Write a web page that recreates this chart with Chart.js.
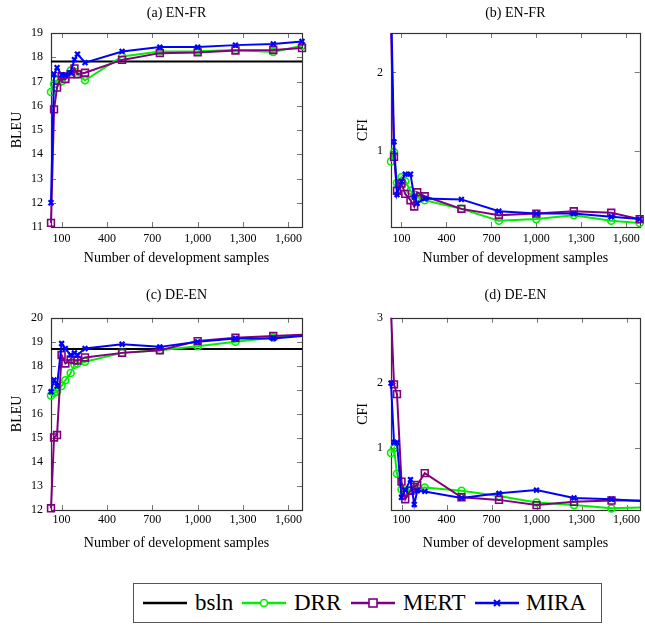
<!DOCTYPE html>
<html><head><meta charset="utf-8">
<script src="https://cdn.jsdelivr.net/npm/chart.js@4.4.1/dist/chart.umd.min.js"></script>
<style>
html,body{margin:0;padding:0;background:#fff;}
#wrap{position:relative;width:645px;height:627px;overflow:hidden;font-family:'Liberation Serif','Times New Roman',serif;}
canvas{position:absolute;}
#legend{position:absolute;left:133px;top:583px;width:469px;height:40px;border:1px solid #555;box-sizing:border-box;}
.ls{position:absolute;top:12px;}
.lt{position:absolute;font-size:23px;line-height:23px;top:7px;color:#000;white-space:nowrap;font-family:'Liberation Serif',serif;}
</style></head>
<body><div id="wrap">
<canvas id="cA" width="322" height="280" style="left:0;top:0"></canvas>
<canvas id="cB" width="323" height="280" style="left:322px;top:0"></canvas>
<canvas id="cC" width="322" height="280" style="left:0;top:280px"></canvas>
<canvas id="cD" width="323" height="280" style="left:322px;top:280px"></canvas>
<div id="legend"></div>
</div>
<script>
// ---------- data ----------
const seriesNames = ['bsln', 'DRR', 'MERT', 'MIRA'];
const xTickVals = [100, 400, 700, 1000, 1300, 1600];
const xEnFr = [30, 50, 70, 100, 125, 160, 185, 205, 255, 500, 750, 1000, 1250, 1500, 1690];
const xDeEn = [30, 50, 70, 100, 125, 160, 185, 205, 255, 500, 750, 1000, 1250, 1500, 1800];

// (a) EN-FR BLEU
const enFrBleuBsln = 17.82;
const enFrBleuDRR  = [16.57, 16.9, 17.05, 17.0, 17.1, 17.45, 17.4, 17.3, 17.05, 18.03, 18.24, 18.25, 18.3, 18.22, 18.48];
const enFrBleuMERT = [11.17, 15.85, 16.75, 17.22, 17.1, 17.3, 17.54, 17.3, 17.36, 17.89, 18.17, 18.2, 18.28, 18.3, 18.38];
const enFrBleuMIRA = [12.0, 17.3, 17.57, 17.27, 17.27, 17.36, 17.9, 18.13, 17.78, 18.24, 18.42, 18.42, 18.5, 18.55, 18.65];

// (b) EN-FR CFI
const enFrCfiDRR  = [0.87, 0.99, 0.6, 0.67, 0.62, 0.5, 0.45, 0.42, 0.38, 0.27, 0.12, 0.14, 0.19, 0.12, 0.09];
const enFrCfiMERT = [2.6, 0.93, 0.5, 0.59, 0.46, 0.38, 0.3, 0.48, 0.43, 0.27, 0.19, 0.21, 0.24, 0.22, 0.14];
const enFrCfiMIRA = [2.9, 1.12, 0.45, 0.62, 0.71, 0.71, 0.42, 0.34, 0.4, 0.39, 0.24, 0.21, 0.21, 0.17, 0.14];

// (c) DE-EN BLEU
const deEnBleuBsln = 18.7;
const deEnBleuDRR  = [16.77, 16.88, 16.92, 17.16, 17.4, 17.7, 18.05, 18.1, 18.17, 18.54, 18.65, 18.82, 19.0, 19.18, 19.35];
const deEnBleuMERT = [12.07, 15.02, 15.12, 18.45, 18.1, 18.27, 18.24, 18.22, 18.35, 18.54, 18.65, 19.03, 19.17, 19.24, 19.33];
const deEnBleuMIRA = [16.92, 17.41, 17.16, 18.93, 18.72, 18.45, 18.54, 18.45, 18.72, 18.9, 18.79, 19.0, 19.14, 19.14, 19.3];

// (d) DE-EN CFI
const deEnCfiDRR  = [0.93, 1.0, 0.61, 0.37, 0.35, 0.36, 0.38, 0.39, 0.4, 0.35, 0.27, 0.17, 0.13, 0.08, 0.1];
const deEnCfiMERT = [3.1, 1.98, 1.83, 0.49, 0.22, 0.35, 0.41, 0.44, 0.62, 0.25, 0.21, 0.13, 0.18, 0.2, 0.2];
const deEnCfiMIRA = [2.0, 1.09, 1.09, 0.25, 0.36, 0.52, 0.14, 0.35, 0.34, 0.24, 0.31, 0.36, 0.24, 0.22, 0.18];

// ---------- styling ----------
Chart.defaults.font.family = "'Liberation Serif','Times New Roman',serif";
Chart.defaults.color = '#000';
const COL = {bsln: '#000000', DRR: '#00ee00', MERT: '#800080', MIRA: '#0000ff'};
const MARK = {
  DRR:  {pointStyle: 'circle', pointRadius: 3.5, pointBorderWidth: 1.6},
  MERT: {pointStyle: 'rect', pointRadius: 4.8, pointBorderWidth: 1.6},
  MIRA: {pointStyle: 'crossRot', pointRadius: 3.4, pointBorderWidth: 2.2}
};
const ORDER = {bsln: 3, DRR: 2, MERT: 1, MIRA: 0};

function pts(xs, ys) { return xs.map((x, i) => ({x: x, y: ys[i]})); }

const framePlugin = {
  id: 'pgfFrame',
  beforeDatasetsDraw(chart) {
    const {ctx, chartArea: a, scales: {x, y}} = chart;
    const L = 5;
    ctx.save();
    ctx.strokeStyle = '#777';
    ctx.lineWidth = 1;
    ctx.beginPath();
    x.ticks.forEach(t => {
      const p = Math.round(x.getPixelForValue(t.value)) + 0.5;
      ctx.moveTo(p, a.bottom); ctx.lineTo(p, a.bottom - L);
      ctx.moveTo(p, a.top); ctx.lineTo(p, a.top + L);
    });
    y.ticks.forEach(t => {
      const p = Math.round(y.getPixelForValue(t.value)) + 0.5;
      ctx.moveTo(a.left, p); ctx.lineTo(a.left + L, p);
      ctx.moveTo(a.right, p); ctx.lineTo(a.right - L, p);
    });
    ctx.stroke();
    ctx.strokeStyle = '#333';
    ctx.lineWidth = 1.2;
    ctx.strokeRect(Math.round(a.left) + 0.5, Math.round(a.top) + 0.5, Math.round(a.width), Math.round(a.height));
    ctx.restore();
  }
};

function makePanel(id, title, yTitle, xs, vals, bsln, yMin, yMax, g) {
  const datasets = [];
  if (bsln !== null) {
    datasets.push({label: 'bsln', data: [{x: xs[0], y: bsln}, {x: xs[xs.length - 1], y: bsln}],
      borderColor: COL.bsln, borderWidth: 2, pointRadius: 0, order: ORDER.bsln, clip: g.clip});
  }
  ['DRR', 'MERT', 'MIRA'].forEach(n => {
    datasets.push(Object.assign({label: n, data: pts(xs, vals[n]), borderColor: COL[n],
      backgroundColor: 'rgba(0,0,0,0)', pointBorderColor: COL[n], pointBackgroundColor: 'rgba(0,0,0,0)',
      borderWidth: 2, tension: 0, order: ORDER[n], clip: g.clip}, MARK[n]));
  });
  return new Chart(document.getElementById(id), {
    type: 'line',
    data: {datasets: datasets},
    plugins: [framePlugin],
    options: {
      responsive: false, animation: false, devicePixelRatio: 1,
      events: [],
      layout: {padding: {left: 0, right: g.padR, top: 0, bottom: 0}, autoPadding: false},
      plugins: {
        legend: {display: false}, tooltip: {enabled: false},
        title: {display: true, text: title, color: '#000', fullSize: false,
          font: {size: 14, weight: 'normal'}, padding: {top: g.tTop, bottom: g.tBot}}
      },
      scales: {
        x: {type: 'linear', min: 30, max: 1690,
          afterBuildTicks: s => { s.ticks = xTickVals.map(v => ({value: v})); },
          afterFit: s => { s.height = g.xh; },
          ticks: {color: '#000', font: {size: 12}, padding: g.xpad, maxRotation: 0, autoSkip: false,
            callback: v => Number(v).toLocaleString('en-US')},
          grid: {display: false, drawTicks: false}, border: {display: false},
          title: {display: true, text: 'Number of development samples', color: '#000',
            font: {size: 14}, padding: {top: 0, bottom: g.xtb}}
        },
        y: {type: 'linear', min: yMin, max: yMax,
          afterFit: s => { s.width = g.yw; },
          ticks: {stepSize: 1, includeBounds: false, color: '#000', font: {size: 12}, padding: 8},
          grid: {display: false, drawTicks: false}, border: {display: false},
          title: {display: true, text: yTitle, color: '#000', font: {size: 14}, padding: {top: g.ytp, bottom: 0}}
        }
      }
    }
  });
}

const clipEnFr = {left: 8, right: 8, top: 0, bottom: 8};
const clipDeEn = {left: 8, right: 0, top: 0, bottom: 8};

makePanel('cA', '(a) EN-FR', 'BLEU', xEnFr,
  {DRR: enFrBleuDRR, MERT: enFrBleuMERT, MIRA: enFrBleuMIRA}, enFrBleuBsln, 11, 19,
  {padR: 20, tTop: 4.5, tBot: 11.7, xh: 53, xpad: 5, xtb: 13.6, yw: 51, ytp: 8.6, clip: clipEnFr});
makePanel('cB', '(b) EN-FR', 'CFI', xEnFr,
  {DRR: enFrCfiDRR, MERT: enFrCfiMERT, MIRA: enFrCfiMIRA}, null, 0.04, 2.5,
  {padR: 5, tTop: 4.5, tBot: 11.7, xh: 53, xpad: 5, xtb: 13.6, yw: 69, ytp: 32.6, clip: clipEnFr});
makePanel('cC', '(c) DE-EN', 'BLEU', xDeEn,
  {DRR: deEnBleuDRR, MERT: deEnBleuMERT, MIRA: deEnBleuMIRA}, deEnBleuBsln, 12, 20,
  {padR: 20, tTop: 6.6, tBot: 14.4, xh: 50, xpad: 2.5, xtb: 8.6, yw: 51, ytp: 8.6, clip: clipDeEn});
makePanel('cD', '(d) DE-EN', 'CFI', xDeEn,
  {DRR: deEnCfiDRR, MERT: deEnCfiMERT, MIRA: deEnCfiMIRA}, null, 0.055, 3,
  {padR: 5, tTop: 6.6, tBot: 14.4, xh: 50, xpad: 2.5, xtb: 8.6, yw: 69, ytp: 32.6, clip: clipDeEn});

// ---------- legend ----------
const legendPos = [{s: 9, t: 61}, {s: 108, t: 160}, {s: 217, t: 269}, {s: 341, t: 392}];
const lg = document.getElementById('legend');
function markerSvg(n) {
  const c = COL[n];
  let m = '';
  if (n === 'DRR') m = `<circle cx="22" cy="7" r="3.5" fill="#fff" stroke="${c}" stroke-width="1.6"/>`;
  if (n === 'MERT') m = `<rect x="18" y="3" width="8" height="8" fill="#fff" stroke="${c}" stroke-width="1.6"/>`;
  if (n === 'MIRA') m = `<path d="M19 4 L25 10 M25 4 L19 10" stroke="${c}" stroke-width="2"/>`;
  return `<svg width="44" height="14" viewBox="0 0 44 14"><line x1="0" y1="7" x2="44" y2="7" stroke="${c}" stroke-width="2.6"/>${m}</svg>`;
}
seriesNames.forEach((n, i) => {
  const s = document.createElement('div'); s.className = 'ls'; s.style.left = legendPos[i].s + 'px';
  s.innerHTML = markerSvg(n); lg.appendChild(s);
  const t = document.createElement('div'); t.className = 'lt'; t.style.left = legendPos[i].t + 'px';
  t.textContent = n; lg.appendChild(t);
});
</script>
</body></html>
